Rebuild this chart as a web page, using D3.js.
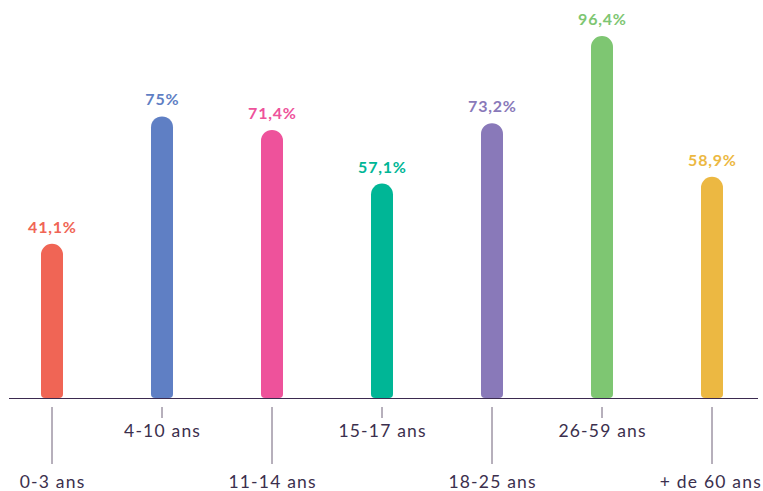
<!DOCTYPE html>
<html><head><meta charset="utf-8">
<script src="https://cdn.jsdelivr.net/npm/d3@7"></script>
<style>body{margin:0;background:#fff}svg{display:block}</style>
</head><body>
<script>
const categories = ["0-3 ans","4-10 ans","11-14 ans","15-17 ans","18-25 ans","26-59 ans","+ de 60 ans"];
const values = [41.1, 75, 71.4, 57.1, 73.2, 96.4, 58.9];
const valueLabels = ["41,1%","75%","71,4%","57,1%","73,2%","96,4%","58,9%"];
const colors = ["#f06555","#5f7fc4","#ee529b","#00b696","#8979b9","#7ec672","#ecb842"];

const W = 763, H = 491;
const svg = d3.select("body").append("svg").attr("width", W).attr("height", H);
const x = d3.scaleBand().domain(categories).range([-3, 767]).paddingInner(0).paddingOuter(0);
const y = d3.scaleLinear().domain([0, 100]).range([398, 22.5]);
const bw = 22, rTop = 11, rBot = 4;

function barPath(cx, top, bottom){
  const l = cx - bw/2, r = cx + bw/2;
  return `M${l},${top+rTop} A${rTop},${rTop} 0 0 1 ${r},${top+rTop} L${r},${bottom-rBot} Q${r},${bottom} ${r-rBot},${bottom} L${l+rBot},${bottom} Q${l},${bottom} ${l},${bottom-rBot} Z`;
}

const g = svg.append("g");
categories.forEach((c,i)=>{
  const cx = x(c) + x.bandwidth()/2;
  g.append("path").attr("d", barPath(cx, y(values[i]), y(0))).attr("fill", colors[i]);
  g.append("text").attr("x", cx + 0.4).attr("y", y(values[i]) - 11)
    .attr("text-anchor","middle").attr("fill", colors[i])
    .style("font-family","Lato, sans-serif").style("font-weight","700").style("font-size","16px")
    .style("letter-spacing","0.8px")
    .text(valueLabels[i]);
  const long = i % 2 === 0;
  g.append("line").attr("x1",cx).attr("x2",cx).attr("y1",407).attr("y2", long ? 464 : 418)
    .attr("stroke","#6e6079").attr("stroke-width",1);
  const t = g.append("text").attr("x", cx + 0.6).attr("y", long ? 488 : 437)
    .attr("text-anchor","middle").attr("fill","#3b2f4d")
    .style("font-family","Lato, sans-serif").style("font-size","17.5px").style("letter-spacing","1.2px")
    .text(c);
  const bb = t.node().getBBox();
  if (bb.x + bb.width > W - 1) t.attr("x", cx + 0.6 - (bb.x + bb.width - (W - 1)));
});
svg.append("line").attr("x1",9).attr("x2",758).attr("y1",398.5).attr("y2",398.5)
  .attr("stroke","#3b2a4f").attr("stroke-width",1.2);
</script>
</body></html>
